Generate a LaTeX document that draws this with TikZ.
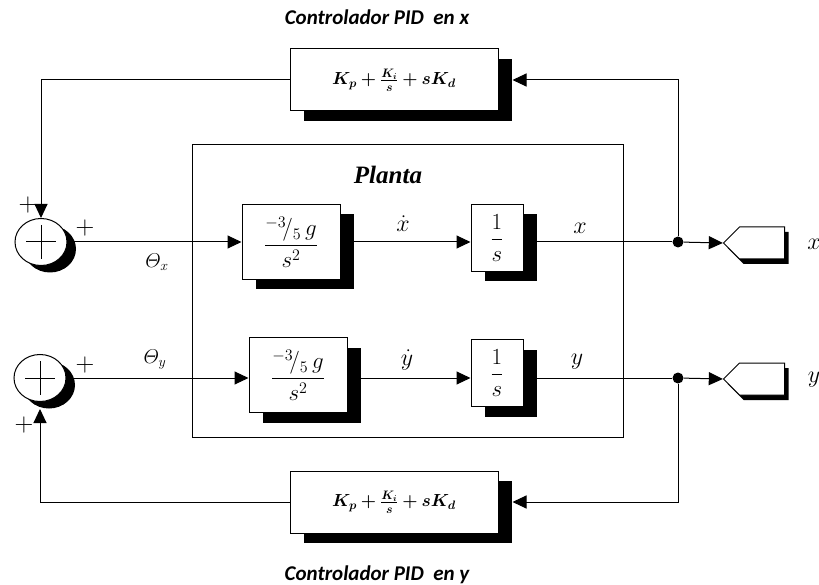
\RequirePackage{fix-cm}
\documentclass[tikz,border=0pt]{standalone}
\usepackage{amsmath,amssymb}
\usepackage{bm}
\usepackage{fontspec}
\setmainfont{Carlito}
\newfontfamily\plantafont{Liberation Serif}
\usepackage{tikz}
\usetikzlibrary{arrows.meta,positioning,calc,shapes.geometric,shapes.symbols,shadows}
\tikzset{
  block/.style={draw, fill=white, inner sep=0pt,
    drop shadow={shadow xshift=14pt, shadow yshift=-10pt, fill=black, opacity=1}},
  sumnode/.style={draw, fill=white, ellipse, minimum width=52pt, minimum height=47pt, inner sep=0pt,
    drop shadow={shadow xshift=9pt, shadow yshift=-7pt, fill=black, opacity=1}},
  port/.style={draw, fill=white, signal, signal to=west, minimum width=61pt, minimum height=32pt, inner sep=0pt,
    drop shadow={shadow xshift=4pt, shadow yshift=-5pt, fill=black, opacity=1}},
  dot/.style={circle, fill, minimum size=11pt, inner sep=0pt},
  sig/.style={font=\fontsize{24}{28}\selectfont},
  ang/.style={font=\fontsize{20}{24}\selectfont},
  sgn/.style={font=\fontsize{26}{30}\selectfont},
  ctrl/.style={font=\fontsize{21}{25}\selectfont\bfseries\itshape},
  pidfont/.style={font=\fontsize{17.5}{21}\selectfont},
  tffont/.style={font=\fontsize{23}{27}\selectfont}
}
\newcommand{\pidlaw}{$\bm{K_p+\frac{K_i}{s}+sK_d}$}
\newcommand{\plantlaw}{$\dfrac{{}^{-3}\!/_{5}\,g}{s^{2}}$}
\newcommand{\intlaw}{$\dfrac{1}{s}$}

\begin{document}
\begin{tikzpicture}[x=1pt, y=-1pt, >={Triangle[length=14pt,width=13pt]}, line width=1pt]
\useasboundingbox (0,0) rectangle (819,585);
\node[draw, minimum width=431pt, minimum height=292pt] (planta) at (407.5,291) {};
\node[font=\fontsize{25}{30}\selectfont\plantafont\bfseries\itshape] (plantalbl) at (388,175) {Planta};

\node[sumnode] (sumx) at (41,242) {};
\node[sumnode] (sumy) at (40,378) {};
\draw (sumx.center) ++(-15,0) -- ++(30,0);
\draw (sumx.center) ++(0,-17) -- ++(0,34);
\draw (sumy.center) ++(-15,0) -- ++(30,0);
\draw (sumy.center) ++(0,-17) -- ++(0,34);

\node[block, tffont, minimum width=98pt, minimum height=75pt] (plantx) at (291,242) {\plantlaw};
\node[block, tffont, minimum width=52pt, minimum height=67pt] (intx) at (497,238) {\intlaw};
\node[block, tffont, minimum width=98pt, minimum height=75pt] (planty) at (298,375) {\plantlaw};
\node[block, tffont, minimum width=52pt, minimum height=67pt] (inty) at (497,373) {\intlaw};

\node[block, pidfont, minimum width=208pt, minimum height=62pt] (pidx) at (394,80) {\pidlaw};
\node[block, pidfont, minimum width=208pt, minimum height=62pt] (pidy) at (394,502) {\pidlaw};

\node[dot] (jx) at (678,242) {};
\node[dot] (jy) at (678,378) {};
\node[port] (outx) at (762,243) {};
\node[port] (outy) at (762,379) {};

\draw[->] (sumx.east) -- (plantx.west);
\draw[->] (plantx.east) -- (plantx.east -| intx.west);
\draw (plantx.east -| intx.east) -- (jx);
\draw[->] (jx) -- (outx.west);
\draw[->] (jx) |- ([xshift=14pt]pidx.east);
\draw[->] (pidx.west) -| (sumx.north);

\draw[->] (sumy.east) -- (sumy.east -| planty.west);
\draw[->] (sumy.east -| planty.east) -- (sumy.east -| inty.west);
\draw (sumy.east -| inty.east) -- (jy);
\draw[->] (jy) -- (outy.west);
\draw[->] (jy) |- ([xshift=14pt]pidy.east);
\draw[->] (pidy.west) -| ([yshift=-7pt]sumy.south);

\node[sgn] (px1) at (28,205) {$+$};
\node[sgn] (px2) at (85,228) {$+$};
\node[sgn] (py1) at (85,365) {$+$};
\node[sgn] (py2) at (24,425) {$+$};

\node[ang] (thx) at (157,262) {$\varTheta_x$};
\node[ang] (thy) at (155,360) {$\varTheta_y$};
\node[sig] (dx) at (403,224) {$\dot{x}$};
\node[sig] (lx) at (580,228) {$x$};
\node[sig] (dy) at (407,360) {$\dot{y}$};
\node[sig] (ly) at (577,362) {$y$};
\node[sig] (xout) at (814,244) {$x$};
\node[sig] (yout) at (814,380) {$y$};

\node[ctrl] (ttlx) at (377,17) {Controlador PID\ \ en x};
\node[ctrl] (ttly) at (377,575) {Controlador PID\ \ en y};
\end{tikzpicture}
\end{document}
